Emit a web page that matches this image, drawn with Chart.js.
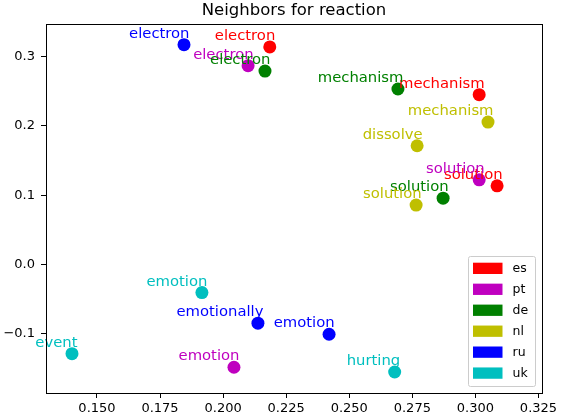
<!DOCTYPE html>
<html>
<head>
<meta charset="utf-8">
<script src="https://cdn.jsdelivr.net/npm/chart.js@4/dist/chart.umd.min.js"></script>
<style>
  html, body { margin: 0; padding: 0; background: #fff; }
  #wrap { width: 561px; height: 418px; }
</style>
</head>
<body>
<div id="wrap"><canvas id="chart" width="561" height="418"></canvas></div>
<script>
// ── Data ────────────────────────────────────────────────
const chartTitle = 'Neighbors for reaction';
const languages = ['es', 'pt', 'de', 'nl', 'ru', 'uk'];
const langColors = ['#ff0000', '#bf00bf', '#008000', '#bfbf00', '#0000ff', '#00bfbf'];

const esWords = ['electron', 'mechanism', 'solution'];
const esX = [0.2185, 0.3015, 0.3086];
const esY = [0.3136, 0.2448, 0.1135];

const ptWords = ['electron', 'solution', 'emotion'];
const ptX = [0.2099, 0.3015, 0.2043];
const ptY = [0.2866, 0.1221, -0.1480];

const deWords = ['electron', 'mechanism', 'solution'];
const deX = [0.2166, 0.2693, 0.2872];
const deY = [0.2789, 0.2530, 0.0957];

const nlWords = ['mechanism', 'dissolve', 'solution'];
const nlX = [0.3050, 0.2769, 0.2765];
const nlY = [0.2054, 0.1712, 0.0857];

const ruWords = ['electron', 'emotionally', 'emotion'];
const ruX = [0.1845, 0.2138, 0.2420];
const ruY = [0.3169, -0.0845, -0.1004];

const ukWords = ['emotion', 'event', 'hurting'];
const ukX = [0.1916, 0.1401, 0.2680];
const ukY = [-0.0404, -0.1284, -0.1548];

const xTicks = [0.150, 0.175, 0.200, 0.225, 0.250, 0.275, 0.300, 0.325];
const yTicks = [-0.1, 0.0, 0.1, 0.2, 0.3];
const xRange = [0.1298, 0.3264];
const yRange = [-0.1851, 0.3467];

const wordSets = [esWords, ptWords, deWords, nlWords, ruWords, ukWords];
const xSets = [esX, ptX, deX, nlX, ruX, ukX];
const ySets = [esY, ptY, deY, nlY, ruY, ukY];

const FONT = "'DejaVu Sans', sans-serif";

// ── Plugins ─────────────────────────────────────────────
const wordLabels = {
    id: 'wordLabels',
    afterDatasetsDraw(chart) {
        const ctx = chart.ctx;
        ctx.save();
        ctx.font = '14.8px ' + FONT;
        ctx.textAlign = 'right';
        ctx.textBaseline = 'alphabetic';
        chart.data.datasets.forEach((ds, i) => {
            const meta = chart.getDatasetMeta(i);
            ctx.fillStyle = ds.backgroundColor;
            meta.data.forEach((pt, j) => {
                ctx.fillText(ds.words[j], pt.x + 5.5, pt.y - 7);
            });
        });
        ctx.restore();
    }
};

const frameAndLegend = {
    id: 'frameAndLegend',
    afterDraw(chart) {
        const ctx = chart.ctx;
        const a = chart.chartArea;
        ctx.save();

        // full box around the axes
        ctx.strokeStyle = '#000';
        ctx.lineWidth = 1;
        ctx.strokeRect(Math.round(a.left) + 0.5, Math.round(a.top) + 0.5,
            Math.round(a.right - a.left), Math.round(a.bottom - a.top));

        // title
        ctx.fillStyle = '#000';
        ctx.font = '16.5px ' + FONT;
        ctx.textAlign = 'center';
        ctx.textBaseline = 'alphabetic';
        ctx.fillText(chartTitle, (a.left + a.right) / 2, 15);

        // legend (lower right, inside the axes)
        const boxL = 468.5, boxT = 256.5, boxW = 67, boxH = 130;
        ctx.fillStyle = 'rgba(255,255,255,0.8)';
        ctx.strokeStyle = '#cccccc';
        ctx.beginPath();
        ctx.roundRect(boxL, boxT, boxW, boxH, 2);
        ctx.fill();
        ctx.stroke();

        ctx.font = '12.5px ' + FONT;
        ctx.textAlign = 'left';
        ctx.textBaseline = 'middle';
        chart.data.datasets.forEach((ds, i) => {
            const cy = 268.3 + i * 20.95;
            ctx.fillStyle = ds.backgroundColor;
            ctx.fillRect(473, cy - 5.6, 29.5, 11.3);
            ctx.fillStyle = '#000';
            ctx.fillText(ds.label, 512.5, cy + 0.5);
        });
        ctx.restore();
    }
};

// ── Chart ───────────────────────────────────────────────
const datasets = languages.map((lang, i) => ({
    label: lang,
    words: wordSets[i],
    data: xSets[i].map((x, j) => ({ x: x, y: ySets[i][j] })),
    backgroundColor: langColors[i],
    borderColor: langColors[i],
    pointRadius: 6.5,
    pointHoverRadius: 6.5,
    borderWidth: 0
}));

const axisCommon = {
    type: 'linear',
    grid: {
        display: true,
        drawOnChartArea: false,
        drawTicks: true,
        tickLength: 5,
        tickWidth: 1,
        color: '#000'
    },
    border: { display: true, color: '#000', width: 1 }
};

new Chart(document.getElementById('chart'), {
    type: 'scatter',
    data: { datasets: datasets },
    options: {
        responsive: false,
        animation: false,
        layout: { padding: { top: 24, right: 19, bottom: 0, left: 0 } },
        plugins: {
            legend: { display: false },
            title: { display: false },
            tooltip: { enabled: false }
        },
        scales: {
            x: {
                ...axisCommon,
                min: xRange[0],
                max: xRange[1],
                afterBuildTicks(scale) {
                    scale.ticks = xTicks.map(v => ({ value: v }));
                },
                afterFit(scale) { scale.height = 25; },
                ticks: {
                    color: '#000',
                    font: { family: FONT, size: 13 },
                    padding: 3,
                    maxRotation: 0,
                    autoSkip: false,
                    callback: v => v.toFixed(3)
                }
            },
            y: {
                ...axisCommon,
                min: yRange[0],
                max: yRange[1],
                afterBuildTicks(scale) {
                    scale.ticks = yTicks.map(v => ({ value: v }));
                },
                afterFit(scale) { scale.width = 46; },
                ticks: {
                    color: '#000',
                    font: { family: FONT, size: 13 },
                    padding: 6,
                    autoSkip: false,
                    callback: v => (v < 0 ? '\u2212' + (-v).toFixed(1) : v.toFixed(1))
                }
            }
        }
    },
    plugins: [wordLabels, frameAndLegend]
});
</script>
</body>
</html>
